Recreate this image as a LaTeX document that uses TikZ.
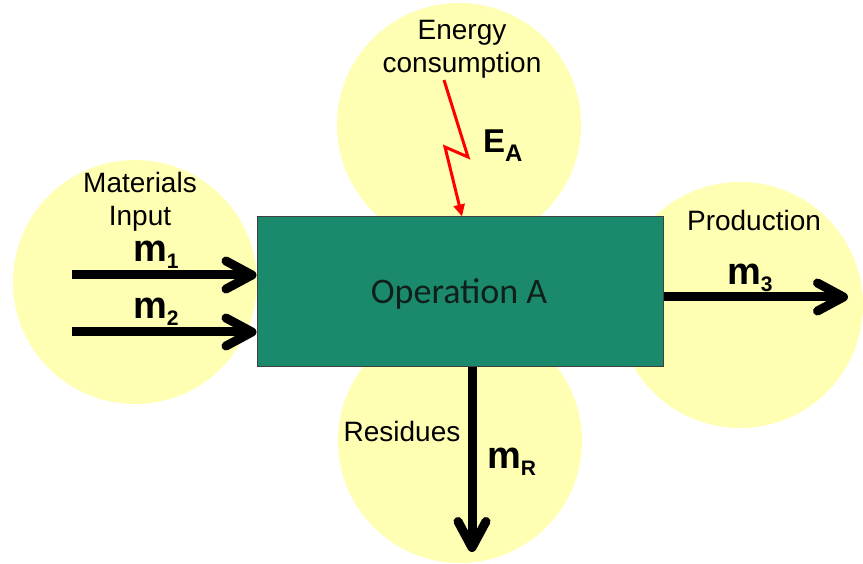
\documentclass[tikz,border=0pt]{standalone}
\usepackage{fontspec}
\setmainfont{Liberation Sans}
\newfontfamily\boxfont{Carlito}
\usepackage{tikz}
\usetikzlibrary{arrows.meta, positioning}

\definecolor{blobyellow}{RGB}{255,255,180}
\definecolor{opgreen}{RGB}{27,138,108}
\definecolor{optext}{RGB}{15,32,26}

% flow symbols
\newcommand{\msym}[1]{\textbf{\fontsize{38}{38}\selectfont m\raisebox{-7pt}{\fontsize{21}{21}\selectfont #1}}}
\newcommand{\esym}[1]{\textbf{\fontsize{33}{33}\selectfont E\raisebox{-9pt}{\fontsize{24}{24}\selectfont #1}}}

\tikzset{
    blob/.style={circle, fill=blobyellow, inner sep=0pt, minimum size=244pt},
    opbox/.style={draw=black!75, line width=1pt, fill=opgreen, minimum width=406pt, minimum height=150pt, inner sep=0pt},
    lbl/.style={align=center, font=\fontsize{28}{33}\selectfont, inner sep=0pt},
    flow/.style={line width=9pt, -{Straight Barb[length=26pt, width=28pt, round]}},
    zap/.style={red, line width=3pt, line join=miter, -{Triangle[length=12pt, width=11pt]}}
}

\begin{document}
\begin{tikzpicture}[x=1pt, y=-1pt]
    \useasboundingbox (0,0) rectangle (863,564);

    % Yellow blobs
    \node[blob] (topblob) at (459,125) {};
    \node[blob] (leftblob) at (135,282) {};
    \node[blob] (botblob) at (460,441) {};
    \node[blob, minimum size=246pt] (rightblob) at (740,305) {};

    % Operation box
    \node[opbox] (op) at (460,292) {};
    \node[font=\boxfont\fontsize{36}{36}\selectfont, text=optext] (optitle) at (459,294) {Operation A};

    % Labels
    \node[lbl] (energy) at (462,49) {Energy\\consumption};
    \node[lbl] (matin) at (140,202) {Materials\\Input};
    \node[lbl] (prod) at (754,220) {Production};
    \node[lbl] (resid) at (402,431) {Residues};

    % Inputs
    \coordinate (in1) at (72,275);
    \coordinate (in2) at (72,332);
    \foreach \c in {in1, in2} {
        \draw[flow] (\c) -- (op.west |- \c);
    }
    \node[anchor=base west, inner sep=0pt] (m1) at (133,262) {\msym{1}};
    \node[anchor=base west, inner sep=0pt] (m2) at (133,319) {\msym{2}};

    % Production
    \coordinate (out3) at (848,297);
    \draw[flow] (op.east |- out3) -- (out3);
    \node[anchor=base west, inner sep=0pt] (m3) at (727,285) {\msym{3}};

    % Residues
    \coordinate (outR) at (472,552);
    \draw[flow] (op.south -| outR) -- (outR);
    \node[anchor=base west, inner sep=0pt] (mR) at (487,468) {\msym{R}};

    % Energy
    \coordinate (zapstart) at (444,80);
    \draw[zap] (zapstart) -- (468,157) -- (445,147) -- (op.north -| 462,0);
    \node[anchor=base west, inner sep=0pt] (EA) at (483,153) {\esym{A}};
\end{tikzpicture}
\end{document}
